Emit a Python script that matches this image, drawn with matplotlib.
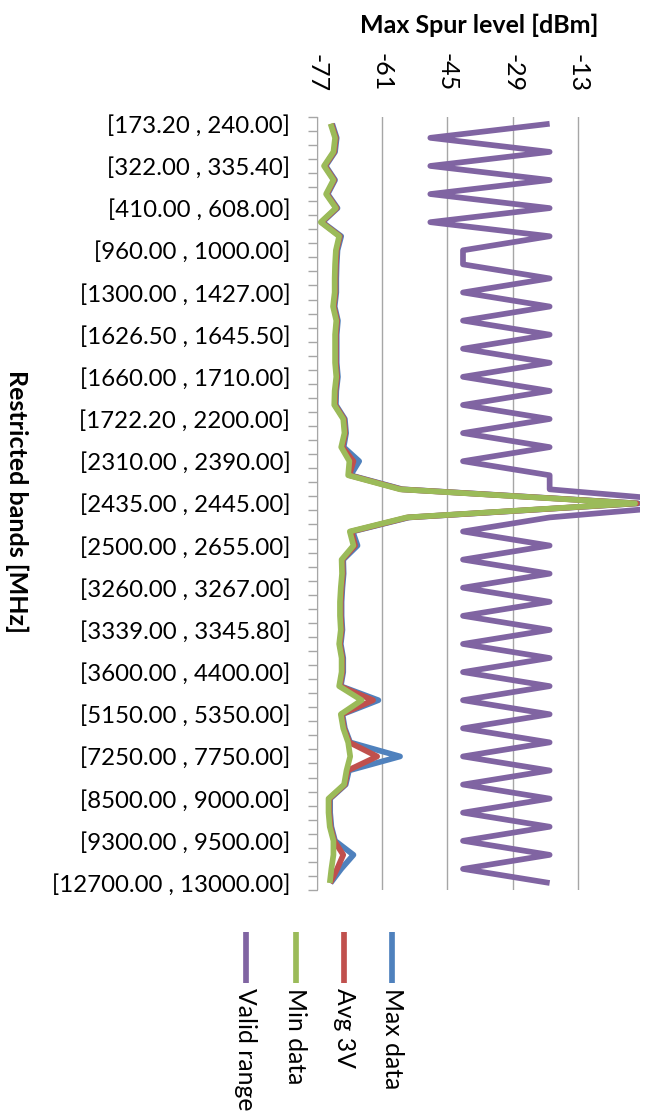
import numpy as np
import matplotlib
matplotlib.use("Agg")
import matplotlib.pyplot as plt
from matplotlib.lines import Line2D

plt.rcParams['font.family'] = ['Lato', 'DejaVu Sans']

# restricted band edges [MHz]
band_lo = [173.2, 240, 285, 322, 335.4, 399.9, 410, 608, 614, 960, 1000, 1240, 1300, 1427,
           1435, 1626.5, 1645.5, 1646.5, 1660, 1710, 1718.8, 1722.2, 2200, 2300, 2310, 2390,
           2400, 2435, 2445, 2483.5, 2500, 2655, 2900, 3260, 3267, 3332, 3339, 3345.8, 3358,
           3600, 4400, 4500, 5150, 5350, 5460, 7250, 7750, 8025, 8500, 9000, 9200, 9300, 9500,
           10600, 12700]
band_hi = [240, 285, 322, 335.4, 399.9, 410, 608, 614, 960, 1000, 1240, 1300, 1427, 1435,
           1626.5, 1645.5, 1646.5, 1660, 1710, 1718.8, 1722.2, 2200, 2300, 2310, 2390, 2400,
           2435, 2445, 2483.5, 2500, 2655, 2900, 3260, 3267, 3332, 3339, 3345.8, 3358, 3600,
           4400, 4500, 5150, 5350, 5460, 7250, 7750, 8025, 8500, 9000, 9200, 9300, 9500, 10600,
           12700, 13000]

# spur levels [dBm]
min_data = [-73.6, -72.5, -72.9, -75.2, -72.9, -74.7, -72.3, -76.0, -71.5, -72.3,
            -72.5, -72.6, -72.6, -73.0, -72.2, -72.5, -72.5, -72.5, -72.2, -72.6,
            -72.7, -70.5, -70.2, -71.0, -69.0, -69.3, -56.6, 0.9, -55.0, -68.9,
            -68.0, -70.9, -70.8, -71.1, -71.3, -71.3, -71.1, -71.5, -70.9, -70.9,
            -71.5, -66.0, -71.1, -70.5, -69.3, -68.8, -69.7, -70.3, -74.1, -74.1,
            -73.8, -72.9, -72.9, -73.4, -73.8]
avg_3v = [-73.4, -72.3, -72.7, -75.0, -72.7, -74.5, -72.1, -75.8, -71.3, -72.1,
          -72.3, -72.4, -72.4, -72.8, -72.0, -72.3, -72.3, -72.3, -72.0, -72.4,
          -72.5, -70.3, -70.0, -70.7, -68.0, -69.0, -56.3, 1.4, -54.7, -68.5,
          -67.6, -70.7, -70.6, -70.9, -71.1, -71.1, -70.9, -71.3, -70.7, -70.7,
          -71.3, -63.2, -70.9, -70.3, -69.0, -62.2, -69.4, -70.1, -73.9, -73.9,
          -73.6, -72.7, -70.5, -72.0, -73.7]
max_data = [-73.2, -72.1, -72.5, -74.8, -72.5, -74.3, -71.9, -75.6, -71.0, -71.9,
            -72.1, -72.2, -72.2, -72.6, -71.8, -72.1, -72.1, -72.1, -71.8, -72.2,
            -72.3, -70.1, -69.8, -70.4, -66.6, -68.7, -56.0, 1.7, -54.4, -68.2,
            -67.0, -70.5, -70.4, -70.7, -70.9, -70.9, -70.7, -71.1, -70.5, -70.5,
            -71.1, -61.9, -70.7, -70.1, -68.8, -56.6, -69.1, -69.9, -73.7, -73.7,
            -73.4, -72.5, -68.0, -71.0, -73.6]
valid_range = [-20, -49.2, -20, -49.2, -20, -49.2, -20, -49.2, -20, -41.2,
               -41.2, -20, -41.2, -20, -41.2, -20, -41.2, -20, -41.2, -20,
               -41.2, -20, -41.2, -20, -41.2, -20, -20, 20, -20, -41.2,
               -20, -41.2, -20, -41.2, -20, -41.2, -20, -41.2, -20, -41.2,
               -20, -41.2, -20, -41.2, -20, -41.2, -20, -41.2, -20, -41.2,
               -20, -41.2, -20, -41.2, -20]

value_ticks = [-77, -61, -45, -29, -13]

series = [("Max data", max_data, "#4F81BD"),
          ("Avg 3V", avg_3v, "#C0504D"),
          ("Min data", min_data, "#9BBB59"),
          ("Valid range", valid_range, "#8064A2")]

labels = ["[%.2f , %.2f]" % (lo, hi) for lo, hi in zip(band_lo, band_hi)]
n = len(labels)
pos = np.arange(n)

fig = plt.figure(figsize=(6.48, 11.16), dpi=100)
ax = fig.add_axes([0.4887, 0.2025, 0.4989, 0.6929])

for name, vals, col in series:
    ax.plot(vals, pos, color=col, lw=4.1, solid_joinstyle='round', solid_capstyle='butt')

ax.set_xlim(-77, 2.1)
ax.set_ylim(n - 0.5, -0.5)

# value axis on top, text turned like the rest of the chart
ax.xaxis.tick_top()
ax.set_xticks(value_ticks)
ax.set_xticklabels([str(v) for v in value_ticks])
ax.tick_params(axis='x', length=0, pad=18, labelsize=18, labelrotation=-90)
ax.xaxis.grid(True, color='#a6a6a6', lw=1)
ax.set_axisbelow(True)

# category axis: ticks between bands, label every 3rd band
ax.set_yticks(np.arange(-0.5, n, 1.0))
ax.set_yticklabels([])
ax.set_yticks(pos[::3], minor=True)
ax.set_yticklabels(labels[::3], minor=True)
ax.tick_params(axis='y', which='major', length=6.5, width=1, color='#a6a6a6', direction='out')
ax.tick_params(axis='y', which='minor', length=0, pad=19, labelsize=17.3)

for s in ['top', 'right', 'bottom']:
    ax.spines[s].set_visible(False)
ax.spines['left'].set_color('#a6a6a6')

fig.text(0.740, 1 - 25 / 1116, "Max Spur level [dBm]", ha='center', va='center',
         fontsize=18, fontweight='bold')
fig.text(0.025, 1 - 502 / 1116, "Restricted bands [MHz]", ha='center', va='center',
         rotation=-90, fontsize=18, fontweight='bold')

# legend (rotated)
leg_x = [0.3796, 0.4563, 0.5313, 0.6054]
for (name, vals, col), lx in zip(series[::-1], leg_x):
    fig.add_artist(Line2D([lx, lx], [1 - 932 / 1116, 1 - 983 / 1116], color=col, lw=4.1,
                          solid_capstyle='butt'))
    fig.text(lx, 1 - 988 / 1116, name, rotation=-90, ha='center', va='top', fontsize=17.8)

fig.savefig("out.png", dpi=100)
